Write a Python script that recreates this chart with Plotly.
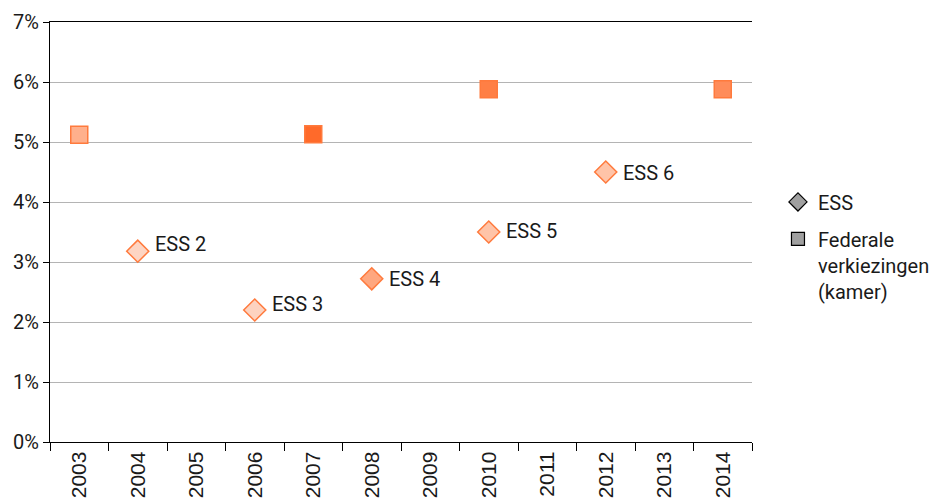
import plotly.graph_objects as go

years = ["2003", "2004", "2005", "2006", "2007", "2008", "2009", "2010", "2011", "2012", "2013", "2014"]

ess_years = ["2004", "2006", "2008", "2010", "2012"]
ess_values = [3.18, 2.2, 2.72, 3.5, 4.5]
ess_labels = ["ESS 2", "ESS 3", "ESS 4", "ESS 5", "ESS 6"]

fed_years = ["2003", "2007", "2010", "2014"]
fed_values = [5.12, 5.13, 5.88, 5.88]

# styling
ess_colors = ["#FDD5C3", "#FDD3C0", "#FFA77F", "#FFC4A8", "#FFC4A8"]
fed_colors = ["#FFB08C", "#FF6A2A", "#FF7F45", "#FF8C5A"]
label_nudge_px = [7, 6, 0, 1, -1]

DIN = "Roboto, DejaVu Sans, sans-serif"
NARROW = "Liberation Sans Narrow, Arial Narrow, Liberation Sans, sans-serif"

fig = go.Figure()

fig.add_trace(go.Scatter(
    x=fed_years, y=fed_values, mode="markers", showlegend=False,
    marker=dict(symbol="square", size=17, color=fed_colors,
                line=dict(color="#FF7A3D", width=1.5)),
    hoverinfo="skip"))

fig.add_trace(go.Scatter(
    x=ess_years, y=ess_values, mode="markers", showlegend=False,
    marker=dict(symbol="diamond", size=17, color=ess_colors,
                line=dict(color="#FF7A3D", width=1.5)),
    hoverinfo="skip"))

# legend entries
fig.add_trace(go.Scatter(
    x=[None], y=[None], mode="markers", name="ESS", legendgroup="a",
    marker=dict(symbol="diamond", size=14, color="#A0A0A0",
                line=dict(color="#000000", width=1.2))))
fig.add_trace(go.Scatter(
    x=[None], y=[None], mode="markers", name="Federale<br>verkiezingen<br>(kamer)",
    legendgroup="b",
    marker=dict(symbol="square", size=13, color="#A0A0A0",
                line=dict(color="#000000", width=1.2))))

for x, y, t, dy in zip(ess_years, ess_values, ess_labels, label_nudge_px):
    fig.add_annotation(x=years.index(x), y=y, text=t, showarrow=False, xanchor="left",
                       yanchor="middle", xshift=15, yshift=dy,
                       font=dict(family=DIN, size=20, color="#1a1a1a"))

fig.update_layout(
    width=940, height=498,
    margin=dict(l=50, r=188, t=22, b=56, autoexpand=False),
    paper_bgcolor="white", plot_bgcolor="white",
    showlegend=True,
    legend=dict(x=1.037, y=0.618, xanchor="left", yanchor="top", valign="top",
                traceorder="grouped", tracegroupgap=8,
                font=dict(family=DIN, size=20, color="#1a1a1a"),
                bgcolor="rgba(0,0,0,0)"),
    xaxis=dict(type="category", categoryorder="array", categoryarray=years,
               range=[-0.5, 11.5], tickangle=-90, tickson="boundaries",
               ticks="outside", ticklen=8, tickcolor="black", tickwidth=1,
               showline=True, linecolor="black", linewidth=1.3, mirror=True,
               showgrid=False, zeroline=False, automargin=False,
               tickfont=dict(family=NARROW, size=21, color="#1a1a1a")),
    yaxis=dict(range=[0, 7], dtick=1, ticksuffix="%",
               ticks="outside", ticklen=6, tickcolor="black",
               showline=True, linecolor="black", linewidth=1.3,
               showgrid=True, gridcolor="#B4B4B4", gridwidth=1.3,
               zeroline=False, automargin=False,
               tickfont=dict(family=DIN, size=20, color="#1a1a1a")),
)

fig.write_html("out.html")
